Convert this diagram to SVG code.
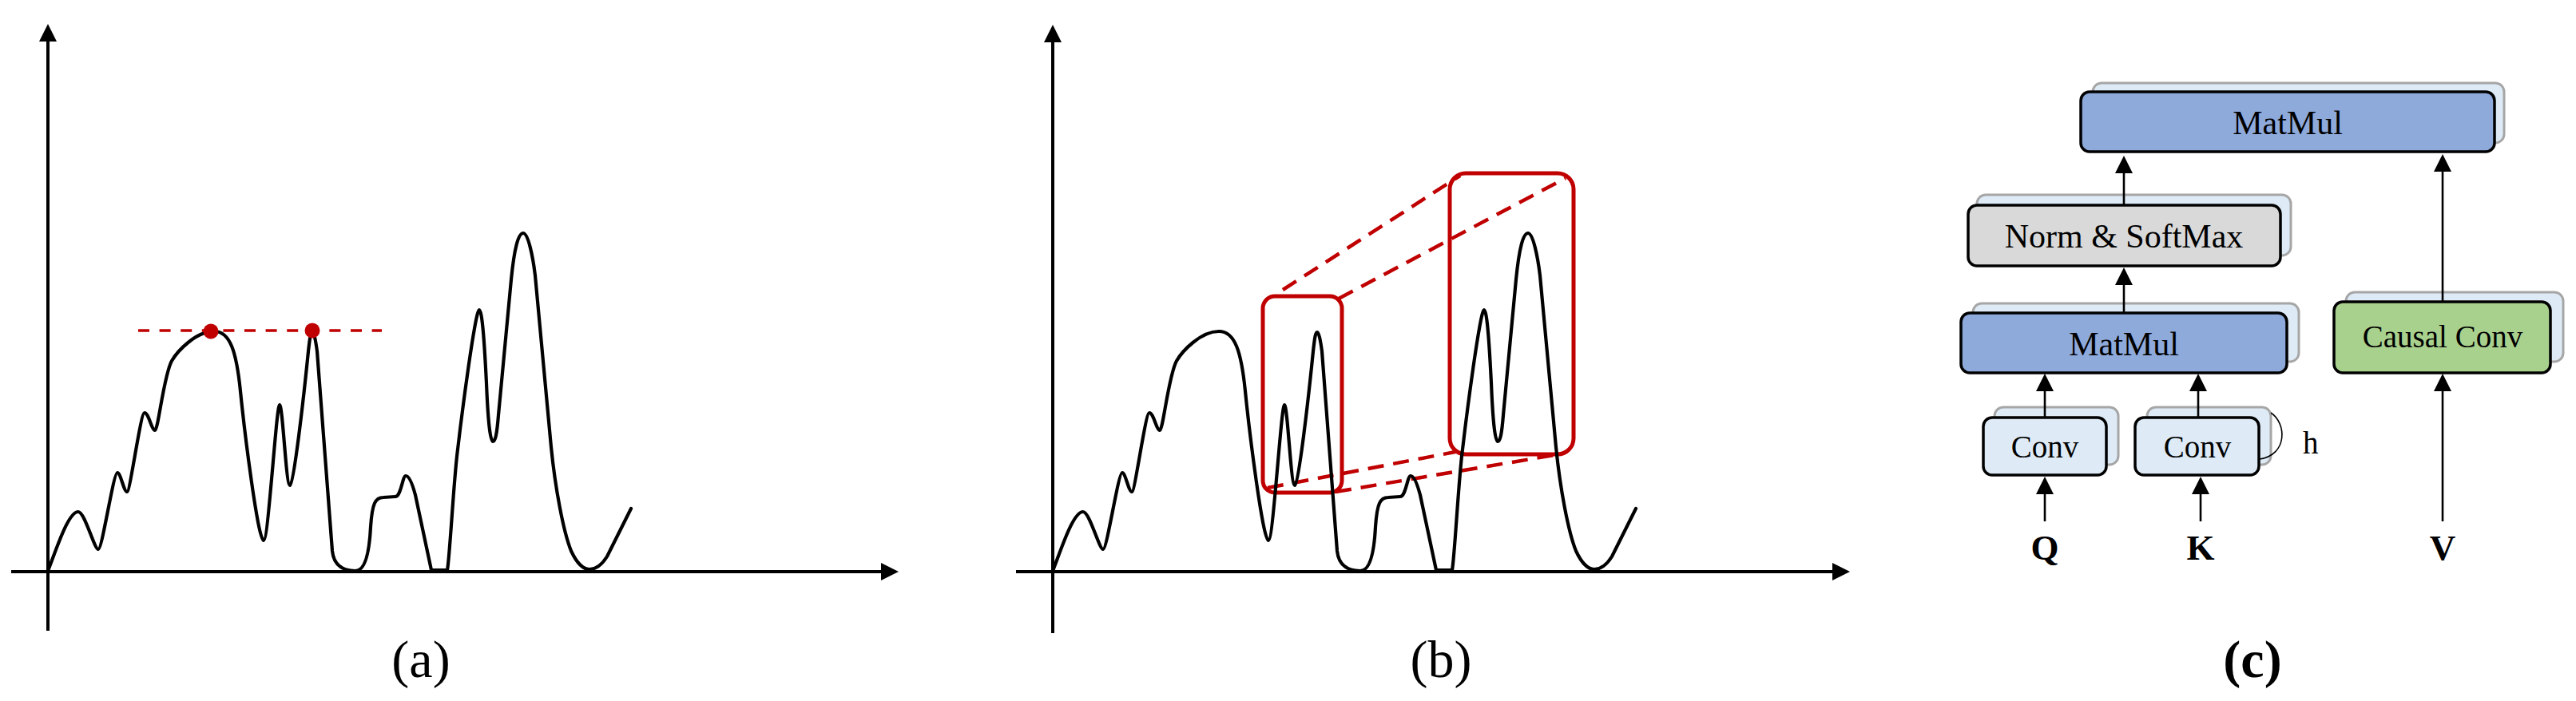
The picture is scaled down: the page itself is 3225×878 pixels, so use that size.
<svg xmlns="http://www.w3.org/2000/svg" xmlns:xlink="http://www.w3.org/1999/xlink" width="3225" height="878" viewBox="0 0 3225 878">
<style>
.ax{stroke:#000;stroke-width:4;fill:none}
.curve{stroke:#000;stroke-width:4.2;fill:none;stroke-linejoin:round;stroke-linecap:round}
.rd{stroke:#C00000;fill:none}
.sh{fill:#DEEBF7;stroke:#A6A6A6;stroke-width:3}
.fr{stroke:#000;stroke-width:3.5}
.lbl{font-family:"Liberation Serif","Times New Roman",serif;fill:#000;text-anchor:middle}
.con{stroke:#000;stroke-width:2.6;fill:none}
</style>
<defs>
<marker id="ah" markerUnits="userSpaceOnUse" markerWidth="22" markerHeight="22" refX="0" refY="11" orient="auto" overflow="visible"><path d="M0,0 L22,11 L0,22 Z" fill="#000"/></marker>
<path id="curve" d="M60,715 C70,690 85,641 98,641 C106,641 118,688 123,688 C128,688 142,592 147,592 C151,592 155,616 159,616 C163,616 176,517 181,517 C186,517 190,539 194,539 C198,539 205,470 215,452 C222,440 245,415 268,415 C288,415 296,440 301,490 C306,540 323,677 330,677 C336,677 346,507 350,507 C354,507 358,608 363,608 C368,605 380,500 386,440 C388,422 389,416 391,416 C393,416 395,425 397,440 L416,690 C418,710 432,715 445,715 C455,715 462,700 464,660 C466,630 470,623 480,623 L495,622 C502,622 504,596 508,596 C512,596 516,605 520,620 L540,714 L560,714 C563,700 568,600 573,563 C578,520 595,388 600,388 C604,388 607,440 609,480 C611,530 614,553 617,553 C620,553 622,545 624,520 L640,350 C644,310 649,292 655,292 C661,292 667,320 670,345 L690,560 C695,610 705,665 715,690 C722,705 730,713 738,713 C748,713 755,705 760,697 L790,637"/>
</defs>
<rect width="3225" height="878" fill="#fff"/>

<!-- Panel (a) -->
<g id="panel-a">
<line class="ax" x1="60" y1="790" x2="60" y2="52" marker-end="url(#ah)"/>
<line class="ax" x1="14" y1="716" x2="1103" y2="716" marker-end="url(#ah)"/>
<use xlink:href="#curve" href="#curve" class="curve"/>
<line class="rd" x1="173" y1="414" x2="478" y2="414" stroke-width="3.4" stroke-dasharray="14 12.6"/>
<circle cx="264" cy="415" r="9.5" fill="#C00000"/>
<circle cx="391" cy="414" r="9.5" fill="#C00000"/>
<text class="lbl" x="527" y="848" font-size="66">(a)</text>
</g>

<!-- Panel (b) -->
<g id="panel-b">
<line class="ax" x1="1318" y1="793" x2="1318" y2="53" marker-end="url(#ah)"/>
<line class="ax" x1="1272" y1="716" x2="2294" y2="716" marker-end="url(#ah)"/>
<rect class="rd" x="1581" y="371" width="99" height="246" rx="15" stroke-width="5"/>
<rect class="rd" x="1815" y="217" width="155" height="352" rx="20" stroke-width="5"/>
<g class="rd" stroke-width="4.5" stroke-dasharray="20 12">
<line x1="1606" y1="363" x2="1828" y2="220"/>
<line x1="1676" y1="374" x2="1960" y2="223"/>
<line x1="1587" y1="611" x2="1822" y2="566"/>
<line x1="1672" y1="616" x2="1952" y2="569"/>
</g>
<use xlink:href="#curve" href="#curve" class="curve" transform="translate(1258,0)"/>
<text class="lbl" x="1804" y="848" font-size="66">(b)</text>
</g>

<!-- Panel (c) nodes -->
<g id="node-matmul-top">
<rect class="sh" x="2620" y="104" width="515" height="75" rx="11"/>
<rect class="fr" x="2605" y="115" width="518" height="75" rx="11" fill="#8EAADB"/>
<text class="lbl" x="2864" y="168" font-size="42">MatMul</text>
</g>
<g id="node-norm-softmax">
<rect class="sh" x="2475" y="244" width="393" height="76" rx="11"/>
<rect class="fr" x="2464" y="257" width="391" height="76" rx="11" fill="#D9D9D9"/>
<text class="lbl" x="2659" y="310" font-size="42">Norm &amp; SoftMax</text>
</g>
<g id="node-matmul-low">
<rect class="sh" x="2470" y="380" width="408" height="73" rx="11"/>
<rect class="fr" x="2455" y="392" width="408" height="75" rx="11" fill="#8EAADB"/>
<text class="lbl" x="2659" y="445" font-size="42">MatMul</text>
</g>
<g id="node-causal-conv">
<rect class="sh" x="2937" y="366" width="272" height="87" rx="11"/>
<rect class="fr" x="2922" y="378" width="271" height="89" rx="11" fill="#A9D18E"/>
<text class="lbl" x="3058" y="435" font-size="39">Causal Conv</text>
</g>
<g id="node-conv-q">
<rect class="sh" x="2497" y="510" width="155" height="72" rx="11"/>
<rect class="fr" x="2483" y="523" width="154" height="72" rx="11" fill="#DEEBF7"/>
<text class="lbl" x="2560" y="573" font-size="39">Conv</text>
</g>
<g id="node-conv-k">
<rect class="sh" x="2688" y="510" width="155" height="72" rx="11"/>
<rect class="fr" x="2673" y="523" width="155" height="72" rx="11" fill="#DEEBF7"/>
<text class="lbl" x="2751" y="573" font-size="39">Conv</text>
<path d="M2843,517 C2863,530 2864,570 2829,575" fill="none" stroke="#000" stroke-width="1.6"/>
<text x="2883" y="568" font-size="39" font-family="Liberation Serif, Times New Roman, serif">h</text>
</g>
<g id="node-q"><text class="lbl" x="2560" y="701" font-size="45" font-weight="bold">Q</text></g>
<g id="node-k"><text class="lbl" x="2755" y="701" font-size="45" font-weight="bold">K</text></g>
<g id="node-v"><text class="lbl" x="3058" y="701" font-size="45" font-weight="bold">V</text></g>
<text class="lbl" x="2820" y="848" font-size="66" font-weight="bold">(c)</text>

<!-- Connectors -->
<g id="connectors" class="con">
<line x1="2659" y1="257" x2="2659" y2="217" marker-end="url(#ah)"/>
<line x1="2659" y1="392" x2="2659" y2="357" marker-end="url(#ah)"/>
<line x1="2560" y1="523" x2="2560" y2="490" marker-end="url(#ah)"/>
<line x1="2752" y1="523" x2="2752" y2="490" marker-end="url(#ah)"/>
<line x1="2560" y1="653" x2="2560" y2="619" marker-end="url(#ah)"/>
<line x1="2755" y1="653" x2="2755" y2="619" marker-end="url(#ah)"/>
<line x1="3058" y1="653" x2="3058" y2="490" marker-end="url(#ah)"/>
<line x1="3058" y1="378" x2="3058" y2="215" marker-end="url(#ah)"/>
</g>
</svg>
